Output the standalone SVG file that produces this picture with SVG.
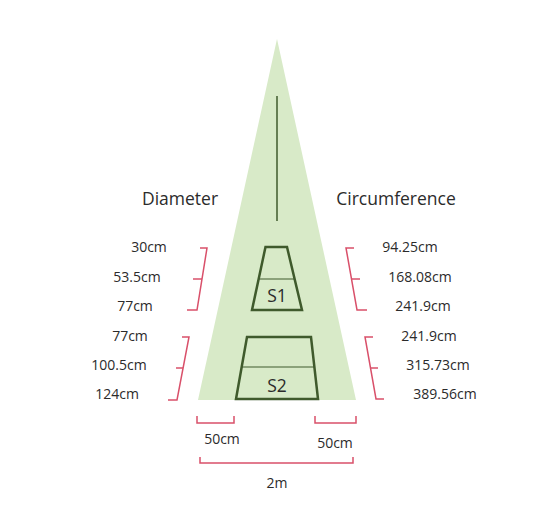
<svg xmlns="http://www.w3.org/2000/svg" width="533" height="526" viewBox="0 0 533 526">
<style>
.t{font-family:"Open Sans","Liberation Sans",sans-serif;fill:#2b2b2b;font-size:14px}
.h{font-size:17.5px}
.br{fill:none;stroke:#d9506a;stroke-width:1.5}
.sh{fill:none;stroke:#3f5a2c;stroke-width:2.5;stroke-linejoin:miter}
.mid{stroke:#3f5a2c;stroke-width:1.2}
</style>
<rect width="533" height="526" fill="#fff"/>
<g id="tree">
<polygon points="277,39 198,400 356,400" fill="#d8eac8"/>
<line x1="277" y1="96" x2="277" y2="221" stroke="#3f5a2c" stroke-width="1.5"/>
</g>
<g id="s1">
<polygon class="sh" points="265.5,247 287,247 302,310 252,310"/>
<line class="mid" x1="259" y1="279" x2="295" y2="279"/>
<text class="t h" x="277" y="302" text-anchor="middle">S1</text>
</g>
<g id="s2">
<polygon class="sh" points="247,337 311,337 318,399 236,399"/>
<line class="mid" x1="242" y1="367" x2="314" y2="367"/>
<text class="t h" x="277" y="392" text-anchor="middle">S2</text>
</g>
<g id="connectors">
<polyline class="br" points="200,248 207,248 197,310 187,310"/>
<line class="br" x1="193" y1="279" x2="202" y2="279"/>
<polyline class="br" points="182,337 189,337 177,400 168,400"/>
<line class="br" x1="176" y1="368" x2="183" y2="368"/>
<polyline class="br" points="354,248 346,248 357,310 367,310"/>
<line class="br" x1="352" y1="279" x2="360" y2="279"/>
<polyline class="br" points="373,337 365,337 376,399 384,399"/>
<line class="br" x1="370" y1="368" x2="378" y2="368"/>
<polyline class="br" points="197,416 197,423 234,423 234,416"/>
<polyline class="br" points="315,416 315,423 356,423 356,416"/>
<polyline class="br" points="200,457 200,463 353,463 353,457"/>
</g>
<g id="labels">
<text class="t h" x="180" y="205" text-anchor="middle">Diameter</text>
<text class="t h" x="396" y="205" text-anchor="middle">Circumference</text>
<text class="t" x="149" y="252" text-anchor="middle">30cm</text>
<text class="t" x="137" y="282" text-anchor="middle">53.5cm</text>
<text class="t" x="135" y="311" text-anchor="middle">77cm</text>
<text class="t" x="130" y="341" text-anchor="middle">77cm</text>
<text class="t" x="119" y="370" text-anchor="middle">100.5cm</text>
<text class="t" x="117" y="399" text-anchor="middle">124cm</text>
<text class="t" x="410" y="252" text-anchor="middle">94.25cm</text>
<text class="t" x="420" y="282" text-anchor="middle">168.08cm</text>
<text class="t" x="423" y="311" text-anchor="middle">241.9cm</text>
<text class="t" x="429" y="341" text-anchor="middle">241.9cm</text>
<text class="t" x="438" y="370" text-anchor="middle">315.73cm</text>
<text class="t" x="445" y="399" text-anchor="middle">389.56cm</text>
<text class="t" x="222" y="444" text-anchor="middle">50cm</text>
<text class="t" x="335" y="448" text-anchor="middle">50cm</text>
<text class="t" x="277" y="488" text-anchor="middle">2m</text>
</g>
</svg>
